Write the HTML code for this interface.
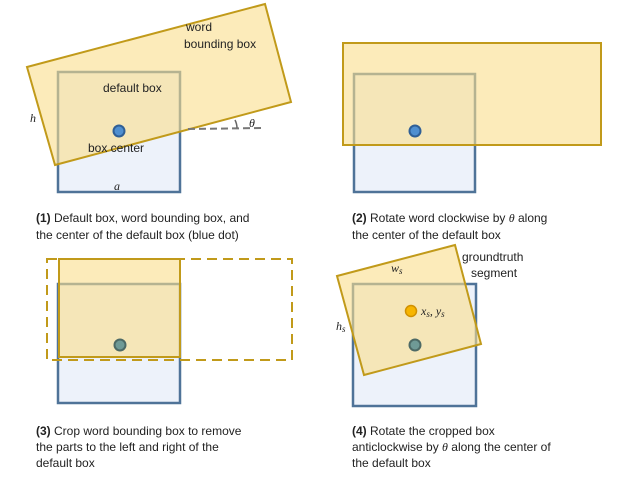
<!DOCTYPE html>
<html><head><meta charset="utf-8"><style>
body{margin:0;background:#fff}
svg{display:block}
text{font-family:"Liberation Sans",sans-serif;font-size:12px;fill:#222}
.m{font-family:"Liberation Serif",serif;font-style:italic}
</style></head><body>
<svg width="631" height="479" viewBox="0 0 631 479">
<g>
<rect x="58" y="72" width="122" height="120" fill="#edf2fa" stroke="#4f7398" stroke-width="2.5"/>
<polygon points="27,67 265,4 291,102 55,165" fill="rgba(250,222,140,0.6)" stroke="#c19a1a" stroke-width="2"/>
<line x1="188" y1="129" x2="264" y2="128" stroke="#777" stroke-width="2" stroke-dasharray="7,4"/>
<path d="M235,120 A18,18 0 0 1 237,128" fill="none" stroke="#666" stroke-width="1.5"/>
<circle cx="119" cy="131" r="5.5" fill="#4f8fd0" stroke="#2f5f96" stroke-width="2"/>
<text x="186" y="31">word</text><text x="184" y="48">bounding box</text>
<text x="103" y="92">default box</text>
<text x="88" y="152">box center</text>
<text class="m" x="30" y="122">h</text>
<text class="m" x="114" y="190">a</text>
<text class="m" x="249" y="127">θ</text>
<text x="36" y="222"><tspan font-weight="bold">(1)</tspan> Default box, word bounding box, and</text>
<text x="36" y="239">the center of the default box (blue dot)</text>
</g>
<g>
<rect x="354" y="74" width="121" height="118" fill="#edf2fa" stroke="#4f7398" stroke-width="2.5"/>
<rect x="343" y="43" width="258" height="102" fill="rgba(250,222,140,0.6)" stroke="#c19a1a" stroke-width="2"/>
<circle cx="415" cy="131" r="5.5" fill="#4f8fd0" stroke="#2f5f96" stroke-width="2"/>
<text x="352" y="222"><tspan font-weight="bold">(2)</tspan> Rotate word clockwise by <tspan class="m">θ</tspan> along</text>
<text x="352" y="239">the center of the default box</text>
</g>
<g>
<rect x="58" y="284" width="122" height="119" fill="#edf2fa" stroke="#4f7398" stroke-width="2.5"/>
<rect x="59" y="259" width="121" height="98" fill="rgba(250,222,140,0.6)" stroke="#c19a1a" stroke-width="2"/>
<rect x="47" y="259" width="245" height="101" fill="none" stroke="#c19a1a" stroke-width="2" stroke-dasharray="10,6"/>
<circle cx="120" cy="345" r="5.5" fill="#6f9a96" stroke="#4d6a66" stroke-width="2"/>
<text x="36" y="435"><tspan font-weight="bold">(3)</tspan> Crop word bounding box to remove</text>
<text x="36" y="451">the parts to the left and right of the</text>
<text x="36" y="467">default box</text>
</g>
<g>
<rect x="353" y="284" width="123" height="122" fill="#edf2fa" stroke="#4f7398" stroke-width="2.5"/>
<polygon points="337,276 455,245 481,344 364,375" fill="rgba(250,222,140,0.6)" stroke="#c19a1a" stroke-width="2"/>
<circle cx="411" cy="311" r="5.5" fill="#f7b500" stroke="#d09000" stroke-width="1.5"/>
<circle cx="415" cy="345" r="5.5" fill="#6f9a96" stroke="#4d6a66" stroke-width="2"/>
<text x="462" y="261">groundtruth</text><text x="471" y="277">segment</text>
<text class="m" x="391" y="272">w<tspan font-size="9" dy="2">s</tspan></text>
<text class="m" x="336" y="330">h<tspan font-size="9" dy="2">s</tspan></text>
<text class="m" x="421" y="315">x<tspan font-size="9" dy="2">s</tspan><tspan dy="-2">, y</tspan><tspan font-size="9" dy="2">s</tspan></text>
<text x="352" y="435"><tspan font-weight="bold">(4)</tspan> Rotate the cropped box</text>
<text x="352" y="451">anticlockwise by <tspan class="m">θ</tspan> along the center of</text>
<text x="352" y="467">the default box</text>
</g>
</svg>
</body></html>
